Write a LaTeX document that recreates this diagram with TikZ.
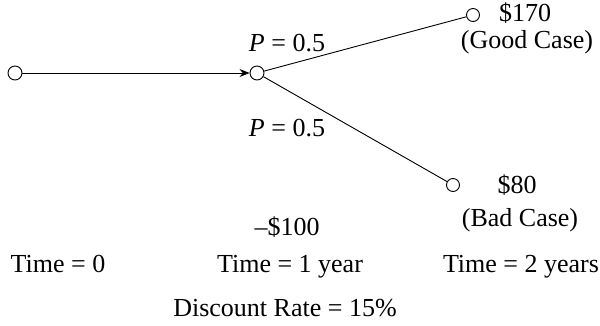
\documentclass[tikz,border=0pt]{standalone}
\usepackage{fontspec}
\setmainfont{Liberation Serif}
\usetikzlibrary{arrows.meta}
\begin{document}
\begin{tikzpicture}[x=1pt,y=-1pt,
  dot/.style={circle,draw,line width=0.9pt,minimum size=14pt,inner sep=0pt},
  lbl/.style={font=\fontsize{26}{30}\selectfont,inner sep=0pt,anchor=base},
  conn/.style={line width=0.9pt}]
\useasboundingbox (0,0) rectangle (600,325);
\node[dot] (a) at (15,73) {};
\node[dot] (b) at (257,73) {};
\node[dot,minimum size=13pt] (c) at (473,15) {};
\node[dot,minimum size=13pt] (d) at (453,185) {};
\draw[conn,-{Stealth[length=10pt,width=8pt]}] (a) -- (b);
\draw[conn] (b) -- (c);
\draw[conn] (b) -- (d);
\node[lbl] (p1) at (287,51) {\textit{P} = 0.5};
\node[lbl] (p2) at (287,136) {\textit{P} = 0.5};
\node[lbl] (v1) at (525,21) {\$170};
\node[lbl] (g1) at (527,48) {(Good Case)};
\node[lbl] (v2) at (517,193) {\$80};
\node[lbl] (g2) at (520,226) {(Bad Case)};
\node[lbl] (m) at (287,235) {–\$100};
\node[lbl] (t0) at (58,272) {Time = 0};
\node[lbl] (t1) at (290,272) {Time = 1 year};
\node[lbl] (t2) at (521,272) {Time = 2 years};
\node[lbl] (dr) at (285,316) {Discount Rate = 15\%};
\end{tikzpicture}
\end{document}
